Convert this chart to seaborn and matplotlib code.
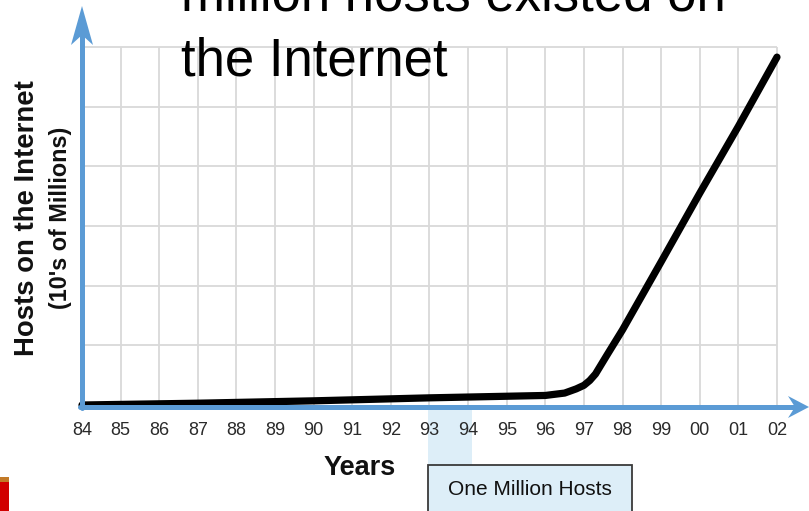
import matplotlib
matplotlib.use("Agg")
import matplotlib.pyplot as plt
from matplotlib.patches import Rectangle, Polygon
import seaborn as sns
import pandas as pd

# ---- data ----
years = [84, 87, 90, 93, 96, 96.5, 96.8, 97, 97.15, 97.3, 97.6, 98, 99, 100, 101, 102]
hosts = [0.0, 0.03, 0.07, 0.12, 0.16, 0.20, 0.27, 0.33, 0.41, 0.52, 0.84, 1.26, 2.40, 3.55, 4.67, 5.83]
tick_years = list(range(84, 103))
tick_labels = ["84", "85", "86", "87", "88", "89", "90", "91", "92", "93", "94",
               "95", "96", "97", "98", "99", "00", "01", "02"]
grid_levels = [1, 2, 3, 4, 5, 6]
title_text = "million hosts existed on\nthe Internet"
ylabel_main = "Hosts on the Internet"
ylabel_sub = "(10's of Millions)"
xlabel = "Years"
box_text = "One Million Hosts"

sns.set_style("white")
plt.rcParams["font.family"] = ["Liberation Sans", "DejaVu Sans"]

W, H = 809, 511
fig = plt.figure(figsize=(W / 100, H / 100), dpi=100)

def fx(px):
    return px / W

def fy(py):
    return 1 - py / H

def fp(pts):
    return [(fx(a), fy(b)) for a, b in pts]

ax = fig.add_axes([fx(82), fy(405), fx(805) - fx(82), fy(15) - fy(405)])
ax.set_facecolor("white")
x_end = 84 + (805 - 82) / 38.61
y_end = (405 - 15) / 59.67
ax.set_xlim(84, x_end)
ax.set_ylim(0, y_end)
for s in ax.spines.values():
    s.set_visible(False)

grid_c = "#d9d9d9"
ax.vlines(tick_years, 0, max(grid_levels), color=grid_c, lw=1.3, zorder=1)
ax.hlines(grid_levels, min(tick_years), max(tick_years), color=grid_c, lw=1.3, zorder=1)

# blue axis arrows
blue = "#5b9bd5"
fig.add_artist(plt.Line2D([fx(82), fx(82)], [fy(408), fy(36)], transform=fig.transFigure,
                          color=blue, lw=3.6, zorder=2))
fig.add_artist(plt.Line2D([fx(80), fx(796)], [fy(407), fy(407)], transform=fig.transFigure,
                          color=blue, lw=3.6, zorder=2))
fig.patches.append(Polygon(fp([(82, 6), (93, 45), (82, 35), (71, 45)]), closed=True,
                           transform=fig.transFigure, facecolor=blue, edgecolor="none", zorder=2))
fig.patches.append(Polygon(fp([(809, 407), (788, 418), (795, 407), (788, 396)]), closed=True,
                           transform=fig.transFigure, facecolor=blue, edgecolor="none", zorder=2))

df = pd.DataFrame({"year": years, "hosts": hosts})
sns.lineplot(data=df, x="year", y="hosts", ax=ax, color="black", lw=5.2,
             solid_capstyle="round", solid_joinstyle="round", zorder=5, clip_on=False)

ax.set_xticks(tick_years)
ax.set_xticklabels(tick_labels, fontsize=13, color="#2a2a2a")
ax.set_yticks([])
ax.tick_params(axis="x", length=0, pad=12)
ax.set_xlabel("")
ax.set_ylabel("")

# highlight band and box
band_c = "#ddeef8"
fig.patches.append(Rectangle((fx(428), fy(465)), fx(472) - fx(428), fy(409) - fy(465),
                             transform=fig.transFigure, facecolor=band_c, edgecolor="none", zorder=-1))
fig.patches.append(Rectangle((fx(428), fy(520)), fx(632) - fx(428), fy(465) - fy(520),
                             transform=fig.transFigure, facecolor=band_c, edgecolor="#3a3a3a",
                             lw=1.3, zorder=2))
fig.text(fx(530), fy(489), box_text, ha="center", va="center", fontsize=15, color="#111111", zorder=3)

# red corner decoration
fig.patches.append(Rectangle((0, 0), fx(9), fy(482), transform=fig.transFigure,
                             facecolor="#d10000", edgecolor="none", zorder=2))
fig.patches.append(Rectangle((0, fy(482)), fx(9), fy(477) - fy(482), transform=fig.transFigure,
                             facecolor="#c27a28", edgecolor="none", zorder=2))

# labels
fig.text(fx(27), fy(218), ylabel_main, rotation=90, ha="center", va="center",
         fontsize=19.8, fontweight="bold", color="#111111")
fig.text(fx(61), fy(218), ylabel_sub, rotation=90, ha="center", va="center",
         fontsize=16.8, fontweight="bold", color="#111111")
fig.text(fx(360), fy(468), xlabel, ha="center", va="center",
         fontsize=19.5, fontweight="bold", color="#111111")

fig.text(fx(181), fy(75), title_text, ha="left", va="baseline", fontsize=38,
         linespacing=1.36, color="black", zorder=4)

fig.savefig("out.png", dpi=100)
